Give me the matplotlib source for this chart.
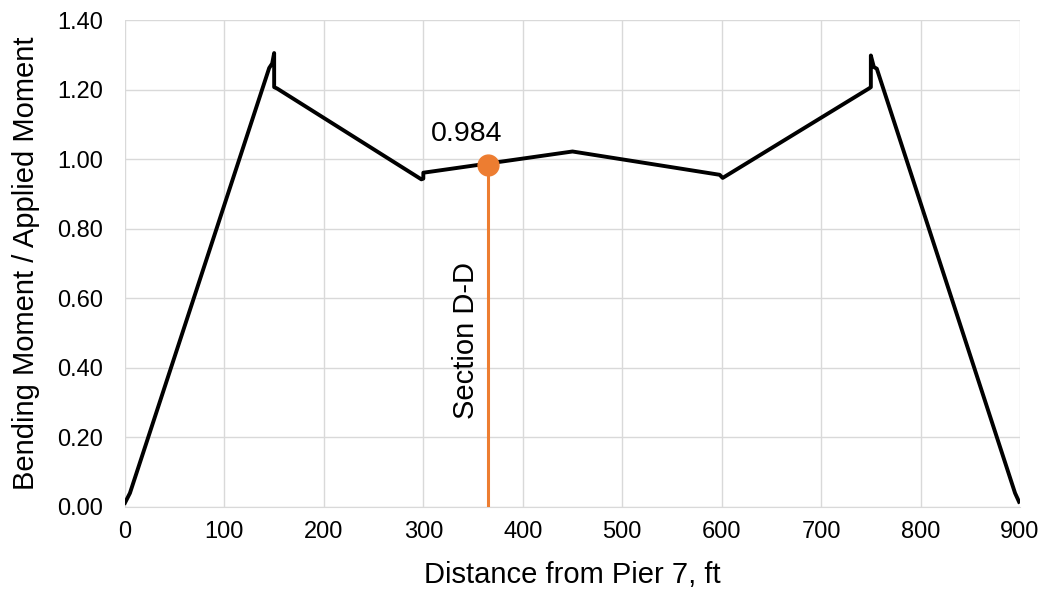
import matplotlib
matplotlib.use("Agg")
from matplotlib import pyplot as plt

plt.rcParams['font.family'] = ['Liberation Sans', 'DejaVu Sans']

# moment ratio along the girder
dist = [0, 5, 145, 148, 150, 150, 153, 298, 300, 300, 305, 450, 598, 601, 748, 750, 750, 753, 756, 895, 899]
ratio = [0.012, 0.04, 1.262, 1.275, 1.305, 1.207, 1.203, 0.942, 0.944, 0.961, 0.963, 1.022, 0.955, 0.946, 1.203, 1.207, 1.298, 1.265, 1.26, 0.04, 0.015]

sec_x = 365
sec_val = 0.984
sec_label = "Section D-D"

xticks = list(range(0, 1000, 100))
yticks = [0.0, 0.2, 0.4, 0.6, 0.8, 1.0, 1.2, 1.4]

fig = plt.figure(figsize=(10.45, 5.92), dpi=100)
ax = fig.add_axes([0.1196, 0.1436, 0.8565, 0.8226])

ax.plot(dist, ratio, color='black', lw=2.8, zorder=3)
ax.plot([sec_x, sec_x], [0, sec_val], color='#ED7D31', lw=2.2, zorder=4)
ax.plot([sec_x], [sec_val], 'o', color='#ED7D31', ms=15, zorder=5)
ax.text(344, 1.072, "{:.3f}".format(sec_val), fontsize=20.5, ha='center', va='center')
ax.text(343, 0.48, sec_label, fontsize=21, rotation=90, ha='center', va='center')

ax.set_xlim(0, 900)
ax.set_ylim(0, 1.4)
ax.set_xticks(xticks)
ax.set_yticks(yticks)
ax.set_yticklabels(["{:.2f}".format(v) for v in yticks])
ax.tick_params(length=0, labelsize=17)
ax.tick_params(axis='y', pad=16)
ax.tick_params(axis='x', pad=10)
ax.grid(True, color='#d9d9d9', lw=1)
ax.set_axisbelow(True)
for s in ['top', 'right', 'left']:
    ax.spines[s].set_visible(False)
ax.spines['bottom'].set_color('#d9d9d9')

ax.set_xlabel('Distance from Pier 7, ft', fontsize=21, labelpad=13)
ax.set_ylabel('Bending Moment / Applied Moment', fontsize=21, labelpad=12)

fig.savefig('out.png', dpi=100)
